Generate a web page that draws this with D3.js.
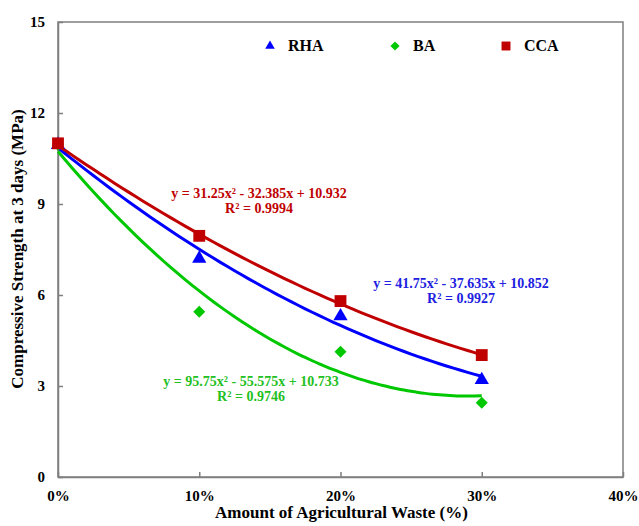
<!DOCTYPE html>
<html>
<head>
  <script src="https://cdn.jsdelivr.net/npm/d3@7"></script>
  <style>
    body { margin: 0; background: #fff; }
  </style>
</head>
<body>
<script>
  // data
  const wastePct = [0, 0.1, 0.2, 0.3];
  const rha = [10.95, 7.2, 5.3, 3.2];
  const ba = [10.95, 5.45, 4.13, 2.45];
  const cca = [11.0, 7.95, 5.8, 4.02];
  // trendline coefficients (a, b, c) for y = a x^2 + b x + c
  const rhaFit = [41.75, -37.635, 10.852];
  const baFit = [95.75, -55.575, 10.733];
  const ccaFit = [31.25, -32.385, 10.932];
  const xTicks = [0, 0.1, 0.2, 0.3, 0.4];
  const yTicks = [0, 3, 6, 9, 12, 15];

  const w = 639, h = 526;
  const margin = { top: 22, right: 16, bottom: 49, left: 58 };
  const serif = "'Liberation Serif', 'Times New Roman', serif";

  const svg = d3.select("body").append("svg")
    .attr("width", w).attr("height", h);

  const xScale = d3.scaleLinear().domain([0, 0.4]).range([margin.left, w - margin.right]);
  const yScale = d3.scaleLinear().domain([0, 15]).range([h - margin.bottom, margin.top]);

  // frame
  svg.append("rect")
    .attr("x", margin.left).attr("y", margin.top)
    .attr("width", w - margin.left - margin.right)
    .attr("height", h - margin.top - margin.bottom)
    .attr("fill", "none").attr("stroke", "#7f7f7f").attr("stroke-width", 1.5);

  // axes, ticks inside
  const xAxis = d3.axisBottom(xScale).tickValues(xTicks)
    .tickFormat(d3.format(".0%")).tickSizeInner(-5).tickSizeOuter(0).tickPadding(13);
  const gx = svg.append("g")
    .attr("transform", "translate(0," + (h - margin.bottom) + ")")
    .call(xAxis);
  gx.select(".domain").attr("stroke", "#7f7f7f").attr("stroke-width", 1.5);
  gx.selectAll("line").attr("stroke", "#7f7f7f").attr("stroke-width", 1.5);
  gx.selectAll("text").attr("fill", "#000")
    .style("font-family", serif).style("font-weight", "bold").style("font-size", "15px");

  const yAxis = d3.axisLeft(yScale).tickValues(yTicks)
    .tickSizeInner(-5).tickSizeOuter(0).tickPadding(13);
  const gy = svg.append("g")
    .attr("transform", "translate(" + margin.left + ",0)")
    .call(yAxis);
  gy.select(".domain").attr("stroke", "#7f7f7f").attr("stroke-width", 1.5);
  gy.selectAll("line").attr("stroke", "#7f7f7f").attr("stroke-width", 1.5);
  gy.selectAll("text").attr("fill", "#000")
    .style("font-family", serif).style("font-weight", "bold").style("font-size", "15px");

  function label(sel, size) {
    return sel.style("font-family", serif).style("font-weight", "bold").style("font-size", size + "px");
  }

  // axis titles
  label(svg.append("text"), 17)
    .attr("x", (margin.left + w - margin.right) / 2 + 1).attr("y", 518)
    .attr("text-anchor", "middle")
    .text("Amount of Agricultural Waste (%)");
  label(svg.append("text"), 17)
    .attr("transform", "translate(23,249) rotate(-90)")
    .attr("text-anchor", "middle")
    .text("Compressive Strength at 3 days (MPa)");

  const series = [
    { name: "RHA", vals: rha, fit: rhaFit, color: "#0000ff", symbol: d3.symbolTriangle, size: 88, lsize: 40, rot: 0 },
    { name: "BA", vals: ba, fit: baFit, color: "#00c800", symbol: d3.symbolSquare, size: 72, lsize: 42, rot: 45 },
    { name: "CCA", vals: cca, fit: ccaFit, color: "#c00000", symbol: d3.symbolSquare, size: 140, lsize: 80, rot: 0 }
  ];

  // trendlines
  const line = d3.line()
    .x(function (d) { return xScale(d[0]); })
    .y(function (d) { return yScale(d[1]); })
    .curve(d3.curveBasis);

  series.forEach(function (s) {
    const pts = d3.range(0, 0.3001, 0.005).map(function (x) {
      return [x, s.fit[0] * x * x + s.fit[1] * x + s.fit[2]];
    });
    svg.append("path")
      .attr("d", line(pts))
      .attr("fill", "none").attr("stroke", s.color).attr("stroke-width", 3);
  });

  // markers
  series.forEach(function (s) {
    svg.selectAll(null)
      .data(s.vals)
      .enter()
      .append("path")
      .attr("d", d3.symbol().type(s.symbol).size(s.size))
      .attr("transform", function (d, i) {
        return "translate(" + xScale(wastePct[i]) + "," + yScale(d) + ") rotate(" + s.rot + ")";
      })
      .attr("fill", s.color);
  });

  // legend
  const legendX = [270, 395, 506];
  series.forEach(function (s, i) {
    svg.append("path")
      .attr("d", d3.symbol().type(s.symbol).size(s.lsize))
      .attr("transform", "translate(" + legendX[i] + ",46) rotate(" + s.rot + ")")
      .attr("fill", s.color);
    label(svg.append("text"), 16)
      .attr("x", legendX[i] + 18).attr("y", 51)
      .attr("fill", "#000")
      .text(s.name);
  });

  // equations
  const eqs = [
    { lines: ["y = 31.25x\u00b2 - 32.385x + 10.932", "R\u00b2 = 0.9994"], x: 259, y: 198, color: "#c00000" },
    { lines: ["y = 41.75x\u00b2 - 37.635x + 10.852", "R\u00b2 = 0.9927"], x: 461, y: 288, color: "#2020e0" },
    { lines: ["y = 95.75x\u00b2 - 55.575x + 10.733", "R\u00b2 = 0.9746"], x: 251, y: 386, color: "#22c022" }
  ];
  eqs.forEach(function (e) {
    e.lines.forEach(function (t, j) {
      label(svg.append("text"), 14)
        .attr("x", e.x).attr("y", e.y + j * 15)
        .attr("text-anchor", "middle")
        .attr("fill", e.color)
        .text(t);
    });
  });
</script>
</body>
</html>
